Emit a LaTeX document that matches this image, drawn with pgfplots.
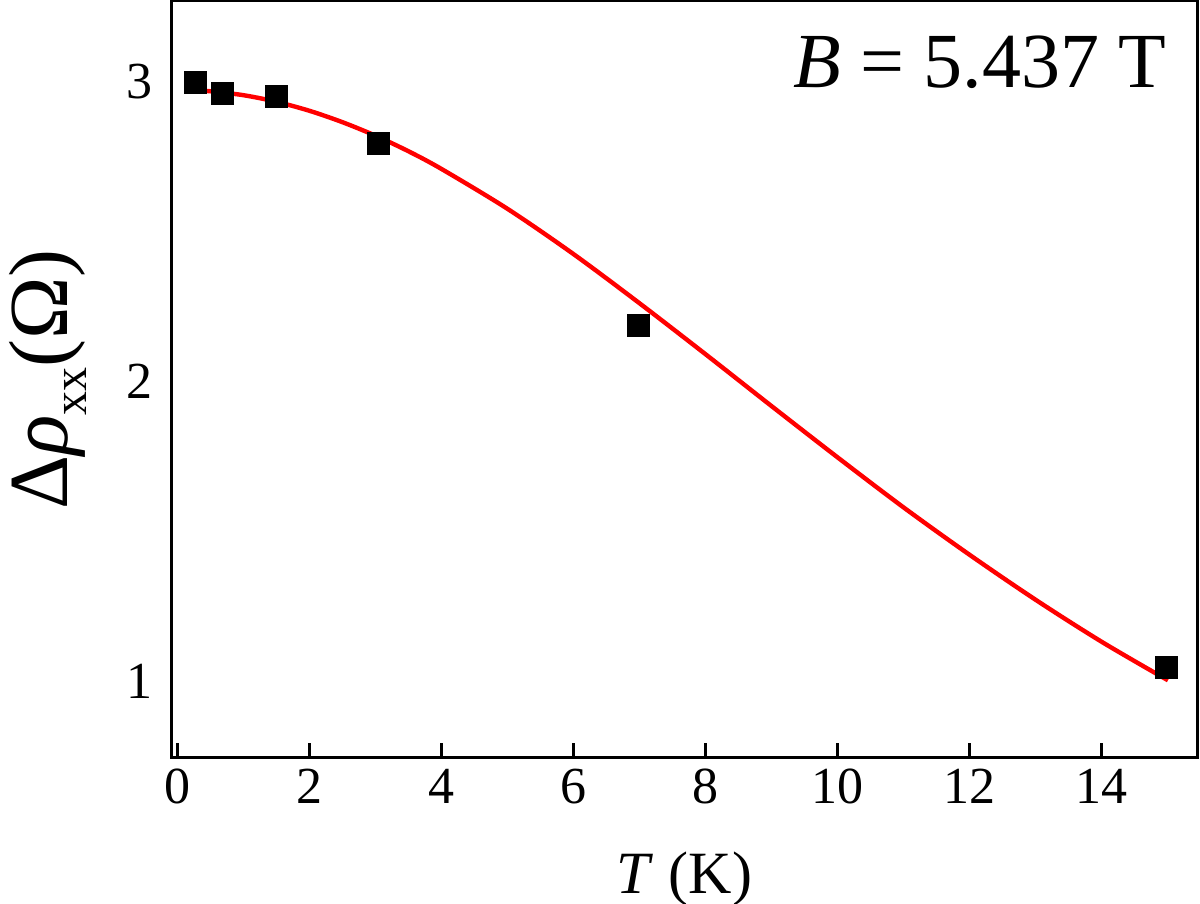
\documentclass[border=0pt]{standalone}
\usepackage{fontspec}
\setmainfont{Liberation Serif}
\usepackage{pgfplots}
\pgfplotsset{compat=1.18}
\begin{document}
\begin{tikzpicture}
\begin{axis}[
  at={(0,0)}, anchor=south west,
  width=512.5pt, height=378.5pt, scale only axis,
  xmin=-0.08, xmax=15.44, ymin=0.743, ymax=3.267,
  axis line style={line width=1.5pt},
  xtick={0,2,...,14}, ytick={1,2,3},
  xtick pos=bottom, ytick pos=left,
  tick align=inside, major tick length=7.5pt,
  xtick style={line width=1.5pt, black},
  ytick style={draw=none},
  ticklabel style={font=\fontsize{26}{26}\selectfont},
  xticklabel style={yshift=-2pt},
  yticklabel style={xshift=-6pt},
  /pgf/number format/assume math mode=true,
  xlabel={\textit{T} (K)},
  xlabel style={font=\fontsize{30}{30}\selectfont, at={(axis description cs:0.5,0)}, anchor=base, yshift=-68pt},
  ylabel={Δ\textit{ρ}\raisebox{-0.5ex}{\fontsize{24}{24}\selectfont xx}(Ω)},
  ylabel style={font=\fontsize{42}{42}\selectfont, at={(axis description cs:0,0.5)}, anchor=center, yshift=62pt},
]
\addplot[red, line width=2.2pt, smooth] coordinates {
  (0.27,2.969) (0.5,2.966) (1,2.953) (1.5,2.931) (2,2.901) (2.5,2.863)
  (3,2.818) (3.5,2.766) (4,2.707) (5,2.574) (6,2.423) (7,2.259)
  (8,2.089) (9,1.916) (10,1.745) (11,1.578) (12,1.420) (13,1.270)
  (14,1.130) (15,1.002)};
\addplot[only marks, mark=square*, mark size=5.5pt, black] coordinates {
  (0.27,2.997) (0.68,2.958) (1.5,2.950) (3.04,2.792) (6.98,2.187) (14.98,1.045)};
\node[anchor=north east, inner sep=0pt, font=\fontsize{39}{39}\selectfont]
  at (rel axis cs:1,1) [xshift=-15pt, yshift=-17pt] {\textit{B} = 5.437 T};
\end{axis}
\pgfresetboundingbox
\useasboundingbox (-86pt,-73pt) rectangle (514pt,379pt);
\end{tikzpicture}
\end{document}
